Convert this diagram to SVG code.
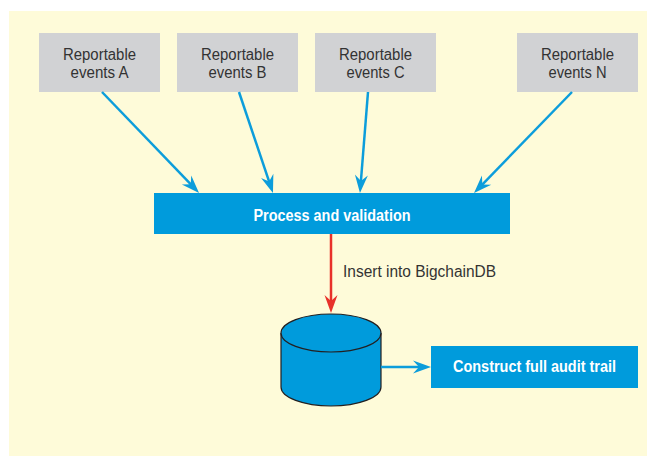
<svg xmlns="http://www.w3.org/2000/svg" width="647" height="456" viewBox="0 0 647 456">
<defs>
<style>
.bg{fill:#fefbd9}
.gray{fill:#d1d2d4}
.blue{fill:#009bdc}
.t{font-family:"Liberation Sans",Arial,sans-serif;font-size:16px;fill:#333333}
.w{font-family:"Liberation Sans",Arial,sans-serif;font-size:16px;font-weight:bold;fill:#ffffff}
.c{stroke:#0c9ddb;stroke-width:2.5;fill:none}
.r{stroke:#e8312a;stroke-width:2.5;fill:none}
</style>
<marker id="ab" markerUnits="userSpaceOnUse" markerWidth="18" markerHeight="14" refX="10" refY="6.5" orient="auto" overflow="visible">
<path d="M0,0 L18,6.5 L0,13 L6,6.5 z" fill="#0c9ddb"/>
</marker>
<marker id="ar" markerUnits="userSpaceOnUse" markerWidth="18" markerHeight="14" refX="10" refY="6.5" orient="auto" overflow="visible">
<path d="M0,0 L18,6.5 L0,13 L6,6.5 z" fill="#e8312a"/>
</marker>
</defs>
<rect class="bg" x="9" y="11" width="638" height="445"/>
<g id="nodeA">
<rect class="gray" x="39" y="33" width="121" height="59"/>
<text class="t" x="99.5" y="60" text-anchor="middle" textLength="73" lengthAdjust="spacingAndGlyphs">Reportable</text>
<text class="t" x="99.5" y="78" text-anchor="middle" textLength="58" lengthAdjust="spacingAndGlyphs">events A</text>
</g>
<g id="nodeB">
<rect class="gray" x="177" y="33" width="121" height="59"/>
<text class="t" x="237.5" y="60" text-anchor="middle" textLength="73" lengthAdjust="spacingAndGlyphs">Reportable</text>
<text class="t" x="237.5" y="78" text-anchor="middle" textLength="58" lengthAdjust="spacingAndGlyphs">events B</text>
</g>
<g id="nodeC">
<rect class="gray" x="315" y="33" width="121" height="59"/>
<text class="t" x="375.5" y="60" text-anchor="middle" textLength="73" lengthAdjust="spacingAndGlyphs">Reportable</text>
<text class="t" x="375.5" y="78" text-anchor="middle" textLength="58" lengthAdjust="spacingAndGlyphs">events C</text>
</g>
<g id="nodeN">
<rect class="gray" x="517" y="33" width="121" height="59"/>
<text class="t" x="577.5" y="60" text-anchor="middle" textLength="73" lengthAdjust="spacingAndGlyphs">Reportable</text>
<text class="t" x="577.5" y="78" text-anchor="middle" textLength="58" lengthAdjust="spacingAndGlyphs">events N</text>
</g>
<g id="process">
<rect class="blue" x="154" y="193" width="356" height="41"/>
<text class="w" x="332" y="221" text-anchor="middle" textLength="157" lengthAdjust="spacingAndGlyphs">Process and validation</text>
</g>
<g id="database">
<path d="M281,333 V387 A50,19 0 0 0 381,387 V333" fill="#009bdc" stroke="#231f20" stroke-width="1.2"/>
<ellipse cx="331" cy="333" rx="50" ry="19" fill="#009bdc" stroke="#231f20" stroke-width="1.2"/>
</g>
<g id="audit">
<rect class="blue" x="431" y="346" width="207" height="42"/>
<text class="w" x="534.5" y="372" text-anchor="middle" textLength="163" lengthAdjust="spacingAndGlyphs">Construct full audit trail</text>
</g>
<g id="connectors">
<line class="c" x1="102" y1="92" x2="193.5" y2="187.2" marker-end="url(#ab)"/>
<line class="c" x1="239" y1="92" x2="270.4" y2="185.4" marker-end="url(#ab)"/>
<line class="c" x1="368" y1="92" x2="360.6" y2="185" marker-end="url(#ab)"/>
<line class="c" x1="572" y1="92" x2="479.6" y2="187.3" marker-end="url(#ab)"/>
<line class="r" x1="331" y1="234" x2="331" y2="305" marker-end="url(#ar)"/>
<line class="c" x1="381" y1="367" x2="423" y2="367" marker-end="url(#ab)"/>
<text class="t" x="343" y="277" textLength="153" lengthAdjust="spacingAndGlyphs">Insert into BigchainDB</text>
</g>
</svg>
